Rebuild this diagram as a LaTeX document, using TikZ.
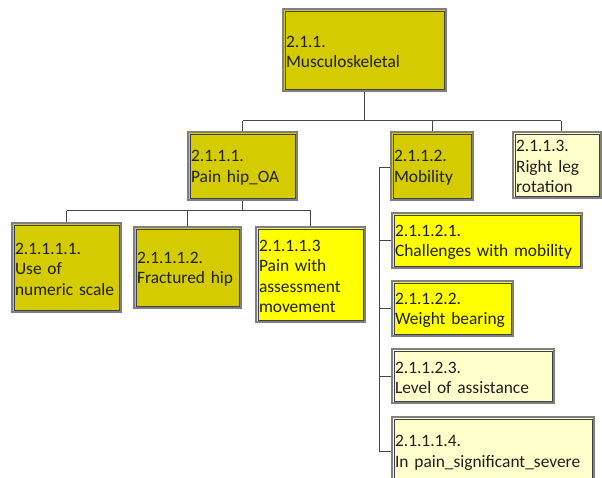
\documentclass[tikz,border=0pt]{standalone}
\usepackage{fontspec}
\setmainfont{Carlito}
\definecolor{olivefill}{RGB}{212,204,0}
\definecolor{brightfill}{RGB}{255,255,0}
\definecolor{creamfill}{RGB}{255,255,204}
\definecolor{outerline}{RGB}{128,128,128}
\definecolor{innerline}{RGB}{64,64,72}
\definecolor{linkline}{RGB}{70,70,70}
\tikzset{
  orgnode/.style={draw=outerline, line width=1.3pt, inner sep=0pt},
  orgtext/.style={anchor=west, inner xsep=3.5pt, inner ysep=0pt, align=left,
    font=\fontsize{17.4}{20.5}\selectfont, text=black!88},
  innerframe/.style={draw=innerline, line width=0.8pt},
  link/.style={draw=linkline, line width=0.9pt},
}
% \orgbox{name}{x1}{y1}{x2}{y2}{fill}{text}
\newcommand\orgbox[7]{%
  \pgfmathsetmacro\obW{#4-#2}%
  \pgfmathsetmacro\obH{#5-#3}%
  \pgfmathsetmacro\obT{#4-#2-7}%
  \node[orgnode, fill=#6, minimum width=\obW pt, minimum height=\obH pt] (#1)
    at ({(#2+#4)/2},{(#3+#5)/2}) {};
  \draw[innerframe] ([xshift=2.6pt,yshift=-2.6pt]#1.north west) rectangle
    ([xshift=-2.6pt,yshift=2.6pt]#1.south east);
  \node[orgtext, text width=\obT pt] (#1-label) at ([yshift=-1.8pt]#1.west) {#7};
}
\begin{document}
\begin{tikzpicture}[x=1pt,y=-1pt]
\useasboundingbox (0,0) rectangle (602,477);
\clip (0,0) rectangle (602,477);
\fill[white] (0,0) rectangle (602,477);

% top level
\orgbox{root}{283}{9}{446}{91}{olivefill}{2.1.1.\\Musculoskeletal}

% second level
\orgbox{painhip}{188}{132}{297}{200}{olivefill}{2.1.1.1.\\Pain hip\_OA}
\orgbox{mobility}{391}{132}{473}{200}{olivefill}{2.1.1.2.\\Mobility}
\orgbox{rightleg}{513}{132}{601}{198}{creamfill}{2.1.1.3.\\Right leg\\rotation}

% children of 2.1.1.1.
\orgbox{numeric}{12}{223}{121}{312}{olivefill}{2.1.1.1.1.\\Use of\\\mbox{numeric scale}}
\orgbox{fractured}{134}{227}{241}{308}{olivefill}{2.1.1.1.2.\\\mbox{Fractured hip}}
\orgbox{painmove}{256}{227}{365}{322}{brightfill}{2.1.1.1.3\\Pain with\\assessment\\movement}

% children of 2.1.1.2.
\orgbox{challenges}{392}{213}{582}{268}{brightfill}{2.1.1.2.1.\\\mbox{Challenges with mobility}}
\orgbox{weight}{392}{281}{513}{336}{brightfill}{2.1.1.2.2.\\Weight bearing}
\orgbox{assist}{392}{349}{554}{403}{creamfill}{2.1.1.2.3.\\Level of assistance}
\orgbox{severe}{392}{417}{594}{485}{creamfill}{2.1.1.1.4.\\In pain\_significant\_severe}

% connectors: root to second level
\draw[link] (root.south) -- ++(0,29) coordinate (rootbus);
\draw[link] (rootbus -| painhip.north) -- ([xshift=4pt]rootbus -| rightleg.north);
\draw[link] (rootbus -| painhip.north) -- (painhip.north);
\draw[link] (rootbus -| mobility.north) -- (mobility.north);
\draw[link] ([xshift=4pt]rootbus -| rightleg.north) -- ([xshift=4pt]rightleg.north);

% connectors: 2.1.1.1. to its children
\draw[link] (painhip.south) -- ++(0,10) coordinate (hipbus);
\draw[link] (hipbus -| numeric.north) -- (hipbus -| painmove.north);
\draw[link] (hipbus -| numeric.north) -- (numeric.north);
\draw[link] (hipbus -| fractured.north) -- (fractured.north);
\draw[link] (hipbus -| painmove.north) -- (painmove.north);

% connectors: 2.1.1.2. to its children (side rail)
\coordinate (rail) at (379,0);
\draw[link] ([yshift=-1pt]mobility.west) -| (rail |- severe.west) -- (severe.west);
\draw[link] (rail |- challenges.west) -- (challenges.west);
\draw[link] (rail |- weight.west) -- (weight.west);
\draw[link] (rail |- assist.west) -- (assist.west);
\end{tikzpicture}
\end{document}
